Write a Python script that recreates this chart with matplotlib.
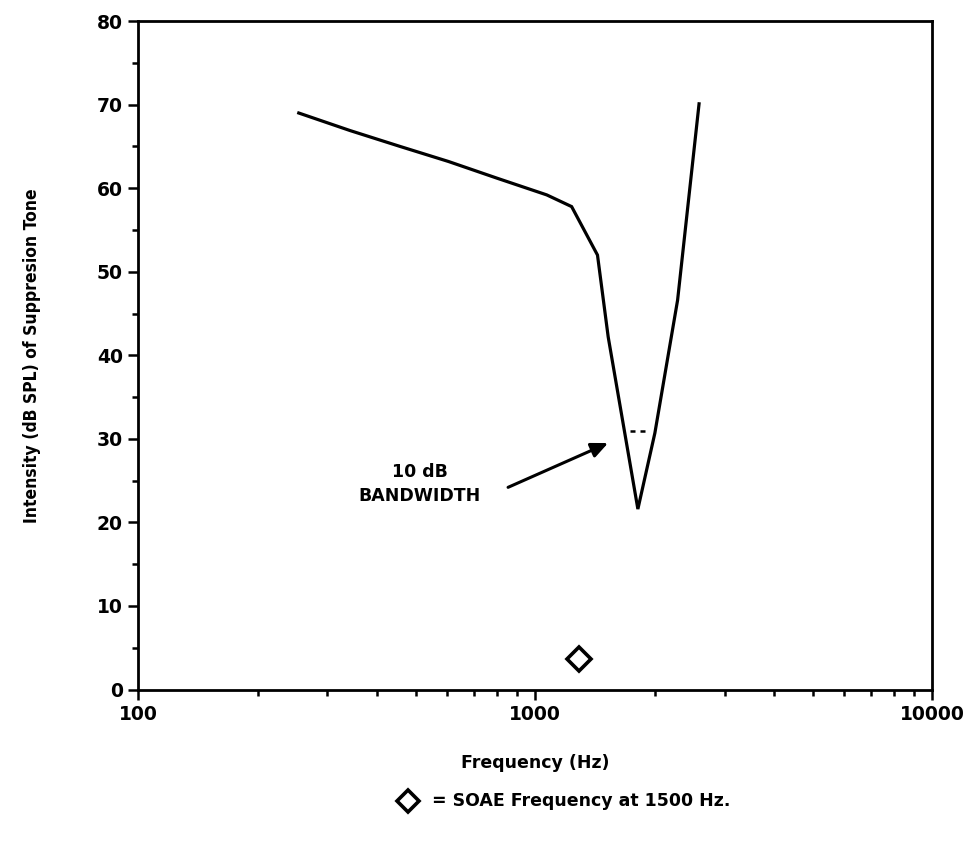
import matplotlib
import numpy as np

matplotlib.use("Agg")
import matplotlib.pyplot as plt
from matplotlib.lines import Line2D
from matplotlib.ticker import FixedLocator, MultipleLocator, NullFormatter

# suppression tuning curve
freq_hz = [254, 342, 457, 605, 802, 1070, 1236, 1436, 1528, 1815, 2003, 2285, 2588]
level_db = [69.0, 66.9, 65.0, 63.2, 61.2, 59.2, 57.8, 52.0, 42.2, 21.6, 30.7, 46.6, 70.1]

# 10 dB bandwidth marker (dotted)
bw_freq = [1734, 1926]
bw_level = [31.0, 31.0]

# SOAE marker
soae_freq = [1291]
soae_level = [3.7]

x_ticks = [100, 1000, 10000]
x_labels = ["100", "1000", "10000"]

fig = plt.figure(figsize=(9.72, 8.44), dpi=100)
ax = fig.add_axes([0.142, 0.183, 0.817, 0.792])

ax.plot(freq_hz, level_db, color="black", lw=2.3, solid_joinstyle="miter")
ax.plot(bw_freq, bw_level, color="black", lw=1.8, ls=(0, (2, 2)))
ax.plot(soae_freq, soae_level, "D", ms=12, mfc="white", mec="black", mew=2.6)

ax.set_xscale("log")
ax.set_xlim(100, 10000)
ax.set_ylim(0, 80)
ax.xaxis.set_major_locator(FixedLocator(x_ticks))
ax.set_xticklabels(x_labels)
ax.xaxis.set_minor_locator(FixedLocator(
    [m * d for d in (100, 1000) for m in range(2, 10)]))
ax.xaxis.set_minor_formatter(NullFormatter())
ax.yaxis.set_major_locator(MultipleLocator(10))
ax.yaxis.set_minor_locator(MultipleLocator(5))

ax.tick_params(which="both", direction="out", top=False, right=False, width=1.8,
               labelsize=13.5)
ax.tick_params(which="major", length=7, pad=4)
ax.tick_params(which="minor", length=4)
for lab in ax.get_xticklabels() + ax.get_yticklabels():
    lab.set_fontweight("bold")
for s in ax.spines.values():
    s.set_linewidth(2.0)

ax.set_xlabel("Frequency (Hz)", fontsize=12.5, labelpad=22, fontweight="bold")
ax.set_ylabel("Intensity (dB SPL) of Suppresion Tone", fontsize=12.5, labelpad=40,
              fontweight="bold", fontstretch="condensed")

ax.annotate("", xy=(1527, 29.5), xytext=(855, 24.2),
            arrowprops=dict(arrowstyle="-|>,head_length=1.0,head_width=0.45",
                            color="black", lw=2.2, shrinkA=0, shrinkB=0))
ax.text(513, 24.6, "10 dB\nBANDWIDTH", fontsize=12.5, fontweight="bold",
        ha="center", va="center", multialignment="center", linespacing=1.4)

# legend line under the axis title
fig.add_artist(Line2D([0.42], [0.051], marker="D", ms=11, mfc="white", mec="black",
                      mew=2.6, transform=fig.transFigure))
fig.text(0.444, 0.051, "= SOAE Frequency at 1500 Hz.", fontsize=12.5,
         ha="left", va="center", fontweight="bold")

fig.savefig("out.png", dpi=100)
